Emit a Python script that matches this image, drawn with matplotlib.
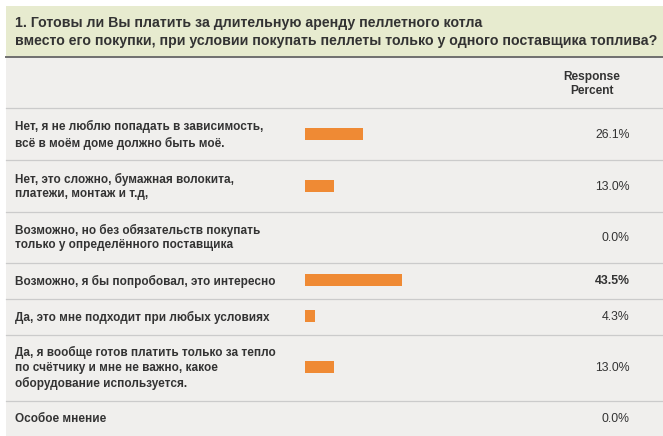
import matplotlib
matplotlib.use('Agg')
import matplotlib.pyplot as plt
from matplotlib.patches import Rectangle

plt.rcParams['font.family'] = ['Liberation Sans', 'DejaVu Sans']

# survey data
question = ("1. Готовы ли Вы платить за длительную аренду пеллетного котла\n"
            "вместо его покупки, при условии покупать пеллеты только у одного поставщика топлива?")
answers = [
    "Нет, я не люблю попадать в зависимость,\nвсё в моём доме должно быть моё.",
    "Нет, это сложно, бумажная волокита,\nплатежи, монтаж и т.д,",
    "Возможно, но без обязательств покупать\nтолько у определённого поставщика",
    "Возможно, я бы попробовал, это интересно",
    "Да, это мне подходит при любых условиях",
    "Да, я вообще готов платить только за тепло\nпо счётчику и мне не важно, какое\nоборудование используется.",
    "Особое мнение",
]
percent = [26.1, 13.0, 0.0, 43.5, 4.3, 13.0, 0.0]

# row layout in pixels (top edge of each row + bottom of table)
row_edges = [108, 160, 211, 262, 298, 334, 400, 436]

W, H = 663, 436
fig = plt.figure(figsize=(W / 100, H / 100), dpi=100)
ax = fig.add_axes([0, 0, 1, 1])
ax.set_xlim(0, W)
ax.set_ylim(H, 0)
ax.axis('off')

# panels
ax.add_patch(Rectangle((6, 6), W - 6, H - 6, facecolor='#f0efed', edgecolor='none'))
ax.add_patch(Rectangle((6, 6), W - 6, 51, facecolor='#e7ebcf', edgecolor='none'))
ax.plot([6, W], [57.5, 57.5], color='#6f6f6f', lw=1.4)

ax.text(15, 32, question, fontsize=10.2, fontweight='bold', color='#333333',
        va='center', ha='left', linespacing=1.34)
ax.text(592, 84, "Response\nPercent", fontsize=8.6, fontweight='bold',
        color='#333333', ha='center', va='center', linespacing=1.3)

for e in row_edges[:-1]:
    ax.plot([6, W], [e + 0.5, e + 0.5], color='#cbcbcb', lw=0.9)

centers = [(row_edges[i] + row_edges[i + 1]) / 2 for i in range(len(answers))]
best = max(percent)
for txt, p, c in zip(answers, percent, centers):
    ax.text(15, c + 1, txt, fontsize=8.5, fontweight='bold', color='#333333',
            ha='left', va='center', linespacing=1.32)
    ax.text(630, c + 1, f"{p:.1f}%", fontsize=8.8, color='#333333',
            fontweight='bold' if p == best else 'normal', ha='right', va='center')

# bars on their own axes: 100% = 222 px starting at x=305
bx = fig.add_axes([305 / W, 0, 222 / W, 1])
bx.set_xlim(0, 100)
bx.set_ylim(H, 0)
bx.axis('off')
bx.barh(centers, percent, height=12, color='#ef8a34', edgecolor='none')

fig.savefig('out.png', dpi=100)
